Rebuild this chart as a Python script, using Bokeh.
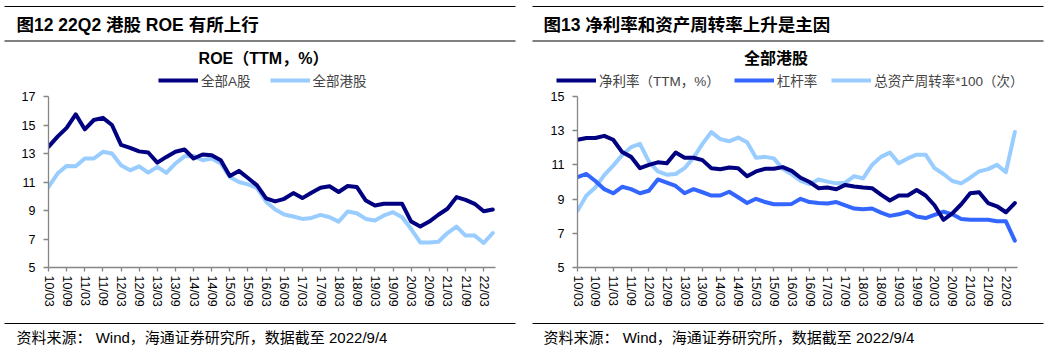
from bokeh.plotting import figure
from bokeh.models import Legend, LegendItem, FixedTicker, Range1d
from bokeh.layouts import row, column
from bokeh.core.properties import value
from bokeh.embed import file_html
from bokeh.resources import INLINE

# ---------------- data ----------------
quarters = [f"{y:02d}/{m}" for y in range(10, 23) for m in ("03", "06", "09", "12")][:50]
tick_idx = list(range(0, 50, 2))
xs = list(range(len(quarters)))

roe_a = [13.47, 14.18, 14.8, 15.75, 14.7, 15.35, 15.5, 15.0, 13.6, 13.4, 13.15, 13.07, 12.36,
         12.76, 13.12, 13.28, 12.65, 12.93, 12.88, 12.53, 11.42, 11.78, 11.28, 10.76, 9.85,
         9.64, 9.82, 10.22, 9.87, 10.25, 10.6, 10.7, 10.3, 10.72, 10.65, 9.7, 9.35, 9.47, 9.47,
         9.47, 8.22, 7.87, 8.22, 8.7, 9.12, 9.94, 9.75, 9.47, 8.95, 9.07]
roe_h = [10.65, 11.59, 12.13, 12.1, 12.65, 12.65, 13.12, 13.0, 12.18, 11.82, 12.1, 11.66, 12.06,
         11.64, 12.3, 12.8, 12.83, 12.53, 12.65, 12.3, 11.35, 11.0, 10.83, 10.58, 9.62,
         9.07, 8.72, 8.58, 8.41, 8.48, 8.69, 8.53, 8.22, 8.93, 8.81, 8.41, 8.3, 8.65, 8.88,
         8.53, 7.7, 6.76, 6.76, 6.81, 7.42, 7.87, 7.24, 7.24, 6.72, 7.42]

npm = [12.47, 12.57, 12.57, 12.7, 12.47, 11.75, 11.47, 10.81, 11.0, 11.15, 11.09, 11.72, 11.42,
       11.42, 11.28, 10.81, 10.75, 10.85, 10.81, 10.34, 10.62, 10.77, 10.77, 10.87, 10.65,
       10.25, 10.0, 9.64, 9.68, 9.58, 9.83, 9.74, 9.68, 9.64, 9.26, 8.92, 9.21, 9.21, 9.53,
       9.21, 8.64, 7.79, 8.17, 8.7, 9.34, 9.4, 8.77, 8.58, 8.23, 8.77]
lev = [10.28, 10.47, 10.06, 9.58, 9.34, 9.72, 9.58, 9.34, 9.49, 10.15, 9.96, 9.77, 9.34,
       9.58, 9.4, 9.21, 9.21, 9.43, 9.11, 8.77, 9.02, 8.83, 8.7, 8.7, 8.72,
       9.02, 8.83, 8.77, 8.74, 8.83, 8.64, 8.45, 8.4, 8.45, 8.21, 8.02, 8.11, 8.26, 7.98,
       7.89, 8.08, 8.26, 8.11, 7.83, 7.79, 7.79, 7.79, 7.7, 7.7, 6.57]
tat = [8.32, 9.21, 9.68, 10.4, 10.96, 11.57, 12.04, 12.23, 11.19, 10.62, 10.43, 10.47, 10.81,
       11.42, 12.23, 12.92, 12.51, 12.38, 12.6, 12.32, 11.42, 11.47, 11.38, 10.77, 10.45,
       10.06, 9.87, 10.15, 10.02, 9.92, 9.96, 10.34, 10.21, 11.0, 11.47, 11.72, 11.09, 11.38, 11.6,
       11.6, 10.81, 10.47, 10.06, 9.92, 10.25, 10.62, 10.75, 11.0, 10.58, 12.92]

fig_titles = ["图12 22Q2 港股 ROE 有所上行", "图13 净利率和资产周转率上升是主因"]
chart_titles = ["ROE（TTM，%）", "全部港股"]
left_names = ["全部A股", "全部港股"]
right_names = ["净利率（TTM，%）", "杠杆率", "总资产周转率*100（次）"]
source_text = "资料来源： Wind，海通证券研究所，数据截至 2022/9/4"

NAVY = "#000080"
MID = "#3366FF"
LIGHT = "#99CCFF"
AXIS = "#868686"
FONT = "'Liberation Sans', 'Noto Sans CJK SC', sans-serif"
W = 1049
HEAD_H = 90
FOOT_H = 32


def blank(height):
    p = figure(width=W, height=height, output_backend="svg", toolbar_location=None,
               x_range=Range1d(0, W), y_range=Range1d(height, 0),
               x_axis_type=None, y_axis_type=None,
               min_border_left=0, min_border_right=0, min_border_top=0, min_border_bottom=0)
    p.outline_line_color = None
    p.grid.visible = False
    return p


def make_panel(width, height, bl, br, bt, bb, ymin, ymax, yticks):
    p = figure(width=width, height=height, output_backend="svg", toolbar_location=None,
               x_range=Range1d(0, 49.3), y_range=Range1d(ymin, ymax),
               min_border_left=bl, min_border_right=br, min_border_top=bt, min_border_bottom=bb)
    p.outline_line_color = None
    p.grid.visible = False
    for ax in (p.xaxis[0], p.yaxis[0]):
        ax.axis_line_color = AXIS
        ax.axis_line_width = 1.3
        ax.major_tick_line_color = AXIS
        ax.major_tick_line_width = 1.3
        ax.major_tick_in = 0
        ax.minor_tick_line_color = None
        ax.major_label_text_font = FONT
        ax.major_label_text_font_size = "12.5px"
        ax.major_label_text_color = "black"
    p.xaxis.ticker = FixedTicker(ticks=tick_idx)
    p.xaxis.major_label_overrides = {i: quarters[i] for i in tick_idx}
    p.xaxis.major_label_orientation = "vertical"
    p.xaxis.major_tick_out = 4
    p.xaxis.major_label_standoff = 4
    p.yaxis.ticker = FixedTicker(ticks=yticks)
    p.yaxis.major_tick_out = 5
    p.yaxis.major_label_standoff = 8
    return p


# ---------------- header (titles, rules, chart titles, legends) ----------------
head = blank(HEAD_H)
head.segment(x0=[4, 532, 4, 532], y0=[6, 6, 40.5, 40.5], x1=[515, 1043, 515, 1043],
             y1=[6, 6, 40.5, 40.5], line_color="black", line_width=1)
head.text(x=[16, 543], y=[24, 24], text=fig_titles, text_font=value(FONT),
          text_font_size=value("17.5px"), text_font_style=value("bold"),
          text_baseline="middle", text_align="left", text_color="black")
head.text(x=[263, 775.5], y=[57.5, 57.5], text=chart_titles, text_font=value(FONT),
          text_font_size=value("16px"), text_font_style=value("bold"),
          text_baseline="middle", text_align="center", text_color="black")

# legend keys: off-screen line renderers carrying the series styles
off_x = [-60, -50]
off_y = [-60, -60]
lstyle = dict(line_width=4, line_cap="butt")
h1 = head.line(x=off_x, y=off_y, line_color=NAVY, **lstyle)
h2 = head.line(x=off_x, y=off_y, line_color=LIGHT, **lstyle)
h3 = head.line(x=off_x, y=off_y, line_color=NAVY, **lstyle)
h4 = head.line(x=off_x, y=off_y, line_color=MID, **lstyle)
h5 = head.line(x=off_x, y=off_y, line_color=LIGHT, **lstyle)
legend_style = dict(orientation="horizontal", glyph_width=40, glyph_height=16,
                    label_height=16, label_standoff=3, padding=0, margin=0,
                    border_line_color=None, background_fill_alpha=0,
                    label_text_font=FONT, label_text_font_size="13.5px")
leg1 = Legend(items=[LegendItem(label=left_names[0], renderers=[h1]),
                     LegendItem(label=left_names[1], renderers=[h2])],
              location=(158, 0), spacing=19, **legend_style)
leg2 = Legend(items=[LegendItem(label=right_names[0], renderers=[h3]),
                     LegendItem(label=right_names[1], renderers=[h4]),
                     LegendItem(label=right_names[2], renderers=[h5])],
              location=(556, 0), spacing=14, **legend_style)
head.add_layout(leg1, "center")
head.add_layout(leg2, "center")

# ---------------- left panel ----------------
CH = 318 - HEAD_H
p1 = make_panel(524, CH, 48, 29, 96 - HEAD_H, CH - (96 - HEAD_H) - 171, 5, 17,
                [5, 7, 9, 11, 13, 15, 17])
r2 = p1.line(xs, roe_h, line_color=LIGHT, line_width=4, line_join="round", line_cap="round")
r1 = p1.line(xs, roe_a, line_color=NAVY, line_width=4, line_join="round", line_cap="round")

# ---------------- right panel ----------------
p2 = make_panel(525, CH, 53, 32, 95 - HEAD_H, CH - (95 - HEAD_H) - 176, 5, 15,
                [5, 7, 9, 11, 13, 15])
s3 = p2.line(xs, tat, line_color=LIGHT, line_width=4, line_join="round", line_cap="round")
s2 = p2.line(xs, lev, line_color=MID, line_width=4, line_join="round", line_cap="round")
s1 = p2.line(xs, npm, line_color=NAVY, line_width=4, line_join="round", line_cap="round")

# ---------------- footer ----------------
foot = blank(FOOT_H)
foot.segment(x0=[4, 532], y0=[5, 5], x1=[515, 1043], y1=[5, 5], line_color="black", line_width=1)
foot.text(x=[16, 543], y=[19, 19], text=[source_text, source_text], text_font=value(FONT),
          text_font_size=value("15px"), text_baseline="middle", text_align="left",
          text_color="black")

layout = column(head, row(p1, p2), foot)
open("out.html", "w").write(file_html(layout, INLINE))
